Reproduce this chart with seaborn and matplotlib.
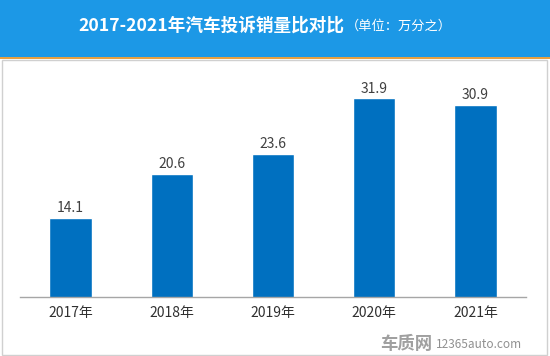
import matplotlib
matplotlib.use('Agg')
import matplotlib.pyplot as plt
import matplotlib.patches as patches
import seaborn as sns
import pandas as pd

# Datos
anios = ['2017年', '2018年', '2019年', '2020年', '2021年']
valores = [14.1, 20.6, 23.6, 31.9, 30.9]
titulo = '2017-2021年汽车投诉销量比对比'
unidad = '（单位：万分之）'

sns.set_theme(style='white')
plt.rcParams['font.family'] = ['Noto Sans CJK SC', 'DejaVu Sans']

W, H = 550, 356
fig = plt.figure(figsize=(W / 100, H / 100), dpi=100)

# Banda azul del título
fig.patches.append(patches.Rectangle((0, 1 - 57 / H), 1, 57 / H, transform=fig.transFigure,
                                     facecolor='#1c98e6', edgecolor='none', zorder=0))
fig.patches.append(patches.Rectangle((0, 1 - 59 / H), 1, 2 / H, transform=fig.transFigure,
                                     facecolor='#e8a040', edgecolor='none', zorder=0))
# Marco gris
fig.patches.append(patches.Rectangle((1.5 / W, 1.5 / H), 545 / W, (H - 61) / H, transform=fig.transFigure,
                                     facecolor='none', edgecolor='#d0d0d0', linewidth=1, zorder=0))

fig.text(344 / W, 1 - 26 / H, titulo, color='white', fontsize=12.7, fontweight='bold',
         ha='right', va='center')
fig.text(346 / W, 1 - 26 / H, unidad, color='white', fontsize=9.5, ha='left', va='center')

ax = fig.add_axes([20 / W, (H - 296.7) / H, 506 / W, (296.7 - 62) / H])
df = pd.DataFrame({'anio': anios, 'valor': valores})
sns.barplot(data=df, x='anio', y='valor', color='#0070c0', saturation=1, width=0.42, ax=ax)

ax.set_ylim(2.3, 37.3)
ax.set_xlim(-0.5, 4.5)
ax.set_xlabel('')
ax.set_ylabel('')
ax.set_yticks([])
for lado in ['top', 'left', 'right']:
    ax.spines[lado].set_visible(False)
ax.spines['bottom'].set_color('#a6a6a6')
ax.spines['bottom'].set_linewidth(1)
ax.tick_params(axis='x', length=0, pad=7, labelsize=10, labelcolor='#303030')

# Etiquetas de valor sobre cada barra
for i, v in enumerate(valores):
    ax.text(i, v + 0.4, f'{v}', ha='center', va='bottom', fontsize=10, color='#404040')

# Marca de agua
fig.text(432 / W, 1 - 344 / H, '车质网', fontsize=12.5, fontweight='bold', color='#a0a0a0',
         ha='right', va='center')
fig.text(436 / W, 1 - 345 / H, '12365auto.com', fontsize=8.5, color='#909090',
         ha='left', va='center')

fig.savefig('out.png', dpi=100)
